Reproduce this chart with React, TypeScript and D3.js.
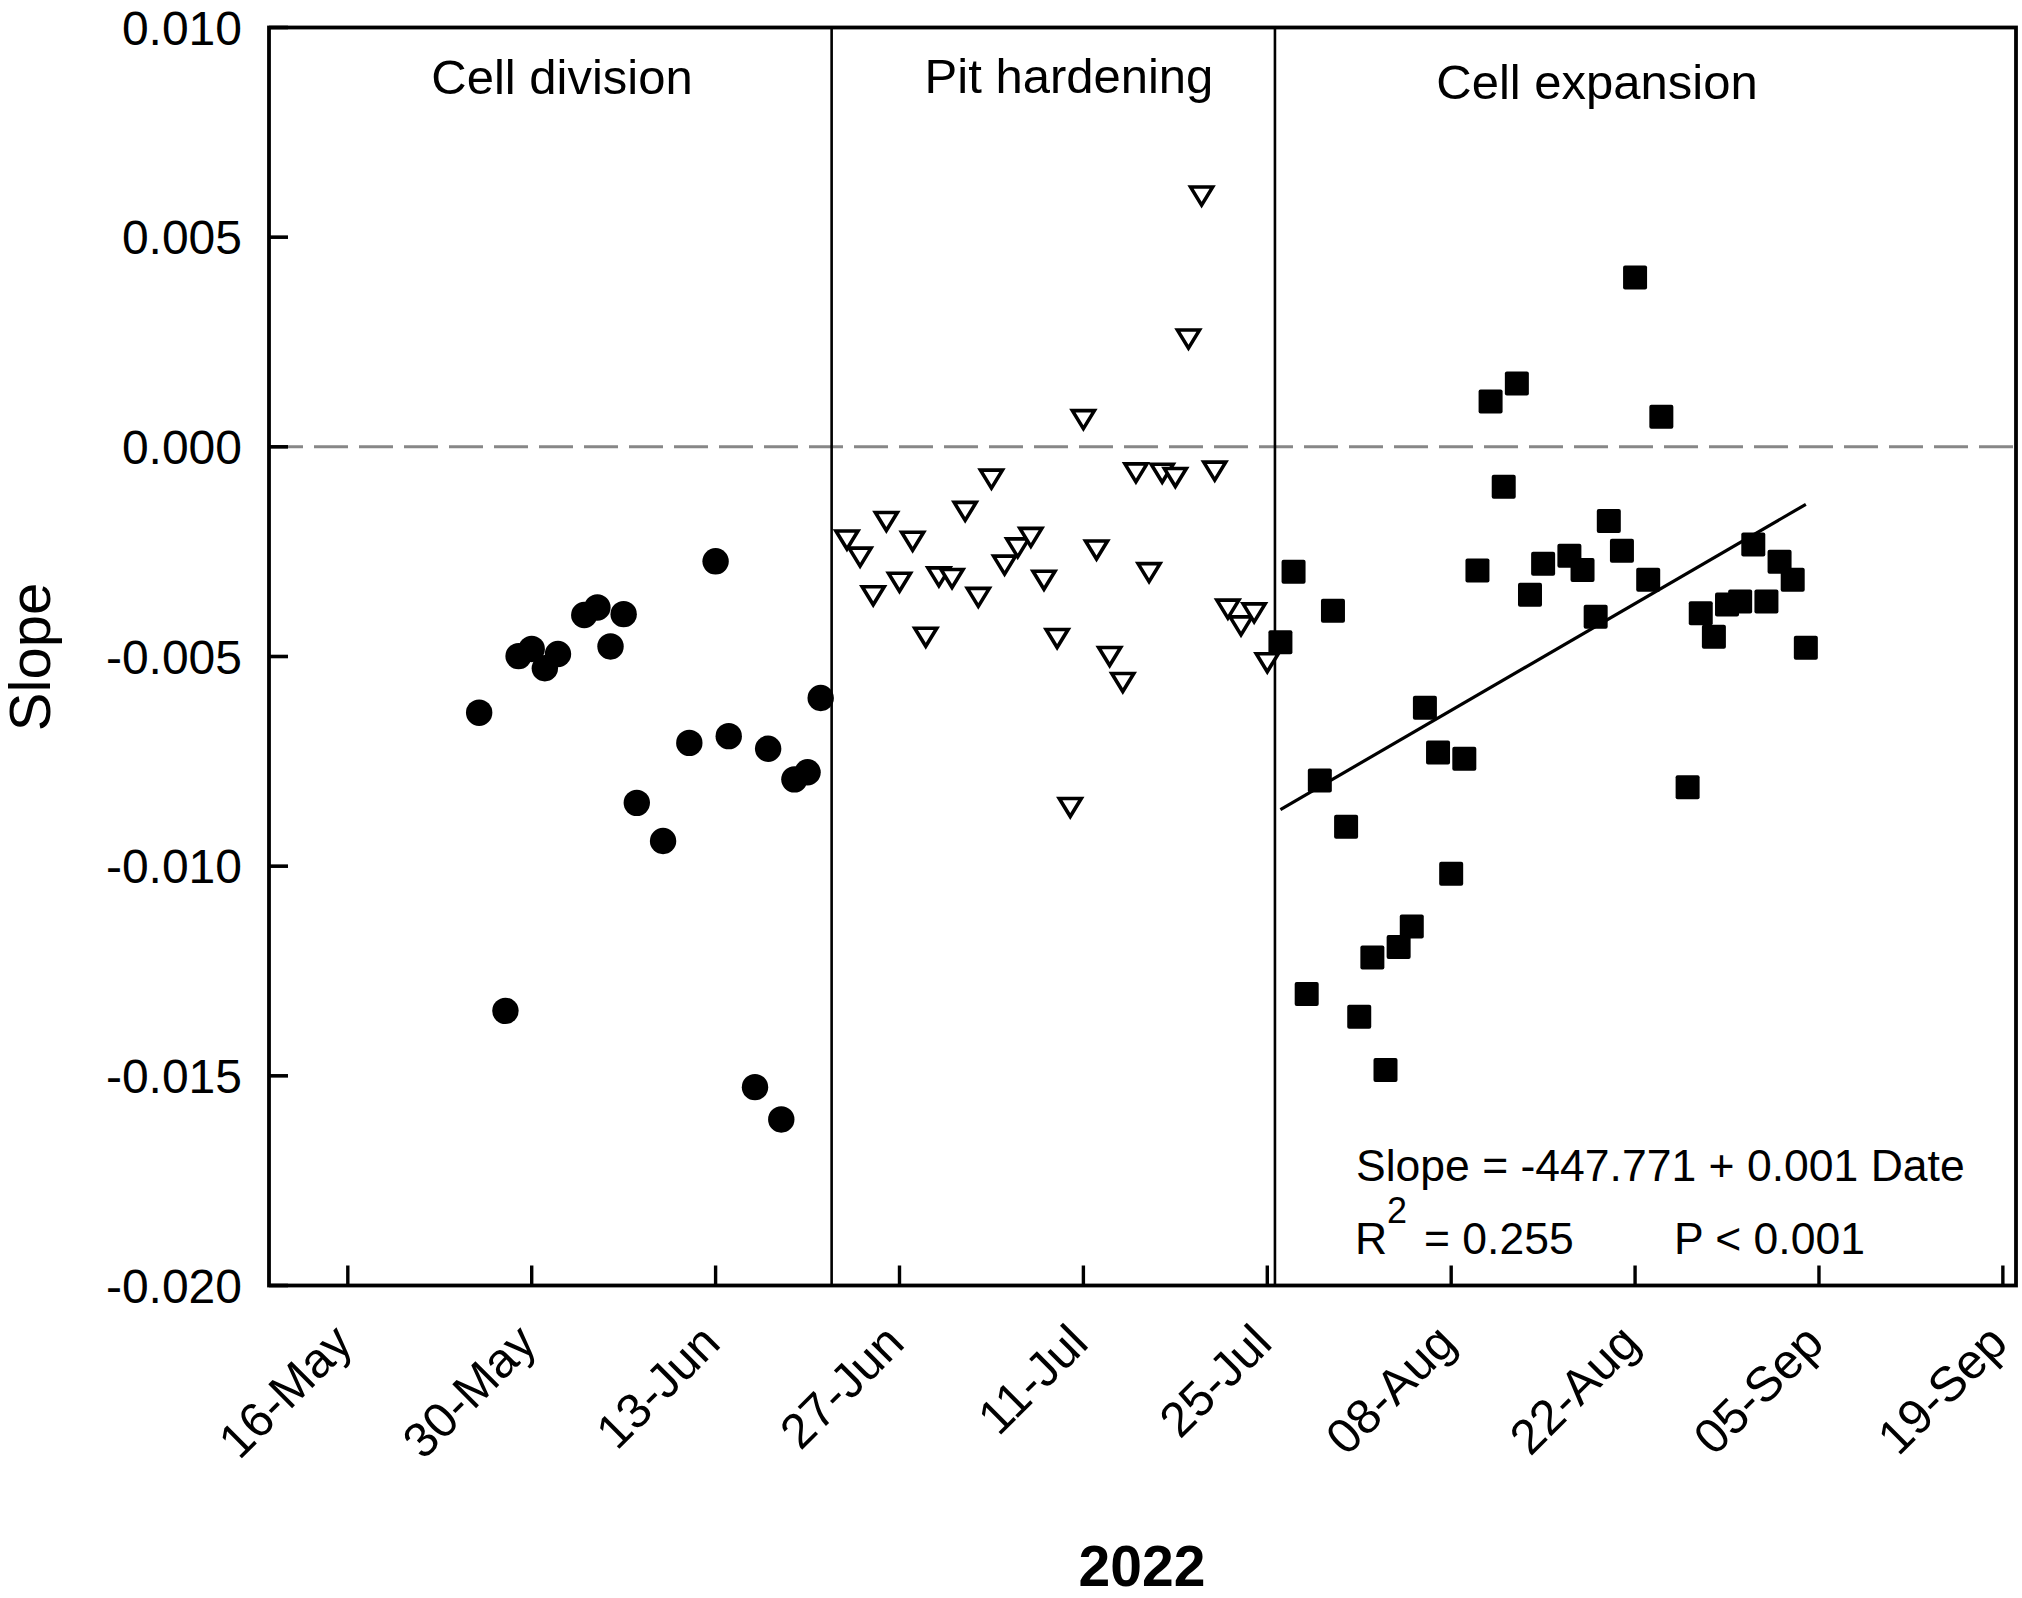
import React from "react";
import * as d3 from "d3";

// Slope per phase, 2022 season
const divisionDates = [
    "2022-05-26", "2022-05-28", "2022-05-29", "2022-05-30", "2022-05-31", "2022-06-01",
    "2022-06-03", "2022-06-04", "2022-06-05", "2022-06-06", "2022-06-07", "2022-06-09",
    "2022-06-11", "2022-06-13", "2022-06-14", "2022-06-16", "2022-06-17", "2022-06-18",
    "2022-06-19", "2022-06-20", "2022-06-21"
];
const divisionSlope = [
    -0.00634, -0.01345, -0.00499, -0.00482, -0.00528, -0.00494,
    -0.00401, -0.00383, -0.00476, -0.00399, -0.00849, -0.00940,
    -0.00706, -0.00273, -0.00690, -0.01527, -0.00720, -0.01604,
    -0.00793, -0.00776, -0.00599
];

const hardeningDates = [
    "2022-06-23", "2022-06-24", "2022-06-25", "2022-06-26", "2022-06-27", "2022-06-28",
    "2022-06-29", "2022-06-30", "2022-07-01", "2022-07-02", "2022-07-03", "2022-07-04",
    "2022-07-05", "2022-07-06", "2022-07-07", "2022-07-08", "2022-07-09", "2022-07-10",
    "2022-07-11", "2022-07-12", "2022-07-13", "2022-07-14", "2022-07-15", "2022-07-16",
    "2022-07-17", "2022-07-18", "2022-07-19", "2022-07-20", "2022-07-21", "2022-07-22",
    "2022-07-23", "2022-07-24", "2022-07-25"
];
const hardeningSlope = [
    -0.00222, -0.00263, -0.00355, -0.00178, -0.00323, -0.00225,
    -0.00454, -0.00310, -0.00314, -0.00154, -0.00359, -0.00077,
    -0.00282, -0.00241, -0.00216, -0.00318, -0.00457, -0.00860,
    0.00065, -0.00246, -0.00500, -0.00562, -0.00062, -0.00300,
    -0.00063, -0.00073, 0.00257, 0.00598, -0.00058, -0.00387,
    -0.00427, -0.00396, -0.00515
];

const expansionDates = [
    "2022-07-26", "2022-07-27", "2022-07-28", "2022-07-29", "2022-07-30", "2022-07-31",
    "2022-08-01", "2022-08-02", "2022-08-03", "2022-08-04", "2022-08-05", "2022-08-06",
    "2022-08-07", "2022-08-08", "2022-08-09", "2022-08-10", "2022-08-11", "2022-08-12",
    "2022-08-13", "2022-08-14", "2022-08-15", "2022-08-17", "2022-08-18", "2022-08-19",
    "2022-08-20", "2022-08-21", "2022-08-22", "2022-08-23", "2022-08-24", "2022-08-26",
    "2022-08-27", "2022-08-28", "2022-08-29", "2022-08-30", "2022-08-31", "2022-09-01",
    "2022-09-02", "2022-09-03", "2022-09-04"
];
const expansionSlope = [
    -0.00466, -0.00298, -0.01305, -0.00796, -0.00391, -0.00906,
    -0.01359, -0.01218, -0.01486, -0.01193, -0.01144, -0.00622,
    -0.00729, -0.01018, -0.00744, -0.00295, 0.00108, -0.00095,
    0.00151, -0.00353, -0.00279, -0.00260, -0.00294, -0.00405,
    -0.00177, -0.00248, 0.00404, -0.00317, 0.00072, -0.00812,
    -0.00397, -0.00453, -0.00376, -0.00369, -0.00233, -0.00369,
    -0.00274, -0.00317, -0.00479
];

const phaseNames = ["Cell division", "Pit hardening", "Cell expansion"];
const phaseBoundaries = ["2022-06-21 20:00", "2022-07-25 14:00"];

const xTickDates = [
    "2022-05-16", "2022-05-30", "2022-06-13", "2022-06-27", "2022-07-11",
    "2022-07-25", "2022-08-08", "2022-08-22", "2022-09-05", "2022-09-19"
];
const xTickLabels = ["16-May", "30-May", "13-Jun", "27-Jun", "11-Jul", "25-Jul", "08-Aug", "22-Aug", "05-Sep", "19-Sep"];
const yTickValues = [-0.020, -0.015, -0.010, -0.005, 0.000, 0.005, 0.010];
const yTickLabels = ["-0.020", "-0.015", "-0.010", "-0.005", "0.000", "0.005", "0.010"];
const xDomain = ["2022-05-10", "2022-09-20"];
const yDomain = [-0.020, 0.010];

const WIDTH = 2022;
const HEIGHT = 1598;
const FONT = "'Liberation Sans', Arial, sans-serif";

const parseDay = d3.timeParse("%Y-%m-%d");
const parseTime = d3.timeParse("%Y-%m-%d %H:%M");

export default function App() {
    const margin = { top: 27.5, right: 6, bottom: 312.5, left: 269 };
    const plotRight = WIDTH - margin.right;
    const plotBottom = HEIGHT - margin.bottom;

    const x = d3.scaleTime()
        .domain(xDomain.map((d) => parseDay(d)!))
        .range([margin.left, plotRight]);
    const y = d3.scaleLinear(yDomain, [plotBottom, margin.top]);

    const division = divisionDates.map((d, i) => ({ date: parseDay(d)!, v: divisionSlope[i] }));
    const hardening = hardeningDates.map((d, i) => ({ date: parseDay(d)!, v: hardeningSlope[i] }));
    const expansion = expansionDates.map((d, i) => ({ date: parseDay(d)!, v: expansionSlope[i] }));

    // least squares fit for the cell expansion phase
    const dayMs = 864e5;
    const xs = expansion.map((p) => p.date.getTime() / dayMs);
    const ys = expansion.map((p) => p.v);
    const mx = d3.mean(xs)!;
    const my = d3.mean(ys)!;
    const sxy = d3.sum(xs, (xv, i) => (xv - mx) * (ys[i] - my));
    const sxx = d3.sum(xs, (xv) => (xv - mx) * (xv - mx));
    const b = sxy / sxx;
    const a = my - b * mx;
    const fitEnds = [expansion[0].date, expansion[expansion.length - 1].date];
    const fitLine = d3.line<Date>()
        .x((d) => x(d))
        .y((d) => y(a + b * d.getTime() / dayMs));

    const triangle = "M-11,-9L11,-9L0,9Z";
    const sq = 24;

    const phaseLabelPos = [
        { x: 562, y: 94 },
        { x: 1069, y: 93 },
        { x: 1597, y: 99 }
    ];

    return <svg width={WIDTH} height={HEIGHT}
        style={{ position: "absolute", left: 0, top: 0, background: "white" }}
        fontFamily={FONT}>

        {/* zero reference */}
        <line x1={margin.left} x2={plotRight} y1={y(0)} y2={y(0)}
            stroke="#878787" strokeWidth={3} strokeDasharray="34 11" />

        {/* phase separators */}
        {phaseBoundaries.map((d) => (
            <line key={d} x1={x(parseTime(d)!)} x2={x(parseTime(d)!)}
                y1={margin.top} y2={plotBottom} stroke="black" strokeWidth={2.6} />
        ))}

        {phaseNames.map((name, i) => (
            <text key={name} x={phaseLabelPos[i].x} y={phaseLabelPos[i].y}
                fontSize={49} textAnchor="middle">{name}</text>
        ))}

        <path d={fitLine(fitEnds)!} fill="none" stroke="black" strokeWidth={3.2} />

        <g name="division">
            {division.map((p, i) => (
                <circle key={i} cx={x(p.date)} cy={y(p.v)} r={13.2} fill="black" />
            ))}
        </g>
        <g name="hardening">
            {hardening.map((p, i) => (
                <path key={i} d={triangle} transform={`translate(${x(p.date)},${y(p.v)})`}
                    fill="white" stroke="black" strokeWidth={3.6} />
            ))}
        </g>
        <g name="expansion">
            {expansion.map((p, i) => (
                <rect key={i} x={x(p.date) - sq / 2} y={y(p.v) - sq / 2} width={sq} height={sq}
                    rx={2} fill="black" />
            ))}
        </g>

        {/* frame */}
        <rect x={margin.left} y={margin.top} width={plotRight - margin.left} height={plotBottom - margin.top}
            fill="none" stroke="black" strokeWidth={3.8} />

        <g name="yTicks">
            {yTickValues.map((t, i) => (
                <g key={t}>
                    <line x1={margin.left} x2={margin.left + 19} y1={y(t)} y2={y(t)}
                        stroke="black" strokeWidth={3.6} />
                    <text x={242} y={y(t) + 17} fontSize={48} textAnchor="end">{yTickLabels[i]}</text>
                </g>
            ))}
        </g>

        <g name="xTicks">
            {xTickDates.map((d, i) => {
                const tx = x(parseDay(d)!);
                return <g key={d}>
                    <line x1={tx} x2={tx} y1={plotBottom} y2={plotBottom - 20}
                        stroke="black" strokeWidth={3.4} />
                    <text transform={`translate(${tx + 7},${plotBottom + 60}) rotate(-45)`}
                        fontSize={49} textAnchor="end">{xTickLabels[i]}</text>
                </g>;
            })}
        </g>

        <text transform={`translate(50,657) rotate(-90)`} fontSize={58} textAnchor="middle">Slope</text>
        <text x={1142} y={1586} fontSize={57} fontWeight="bold" textAnchor="middle">2022</text>

        {/* regression summary */}
        <text x={1356} y={1181} fontSize={44.5}>Slope = -447.771 + 0.001 Date</text>
        <text x={1355} y={1254} fontSize={44.5}>R</text>
        <text x={1387} y={1223} fontSize={36}>2</text>
        <text x={1424} y={1254} fontSize={44.5}>= 0.255</text>
        <text x={1674} y={1254} fontSize={44.5}>P &lt; 0.001</text>
    </svg>;
}
